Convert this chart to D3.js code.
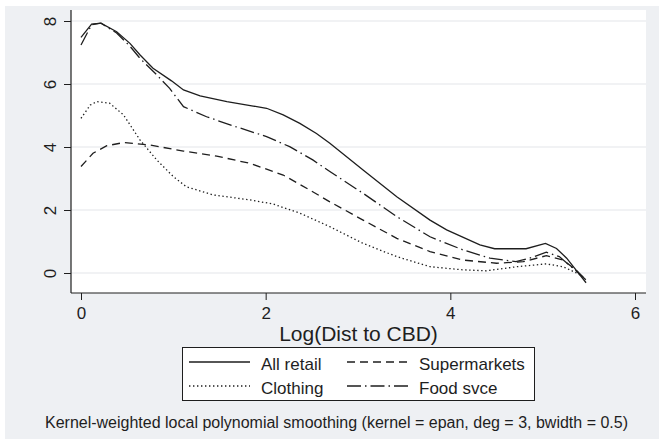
<!DOCTYPE html>
<html>
<head>
<meta charset="utf-8">
<script src="https://cdn.jsdelivr.net/npm/d3@7"></script>
<style>
	body { margin: 0; background: #fff; }
	svg { display: block; font-family: 'Liberation Sans', Arial, sans-serif; }
</style>
</head>
<body>
<div id="graphic"></div>
<script>
// series: [log distance, value]
var allRetail = [[0, 7.48], [0.115, 7.9], [0.216, 7.93], [0.386, 7.66], [0.53, 7.29], [0.64, 6.92],
	[0.78, 6.5], [0.98, 6.1], [1.11, 5.81], [1.29, 5.62], [1.58, 5.44], [1.865, 5.3], [2.01, 5.23],
	[2.19, 5.02], [2.37, 4.75], [2.55, 4.43], [2.695, 4.12], [3.055, 3.27], [3.42, 2.42], [3.78, 1.68],
	[3.96, 1.37], [4.14, 1.13], [4.32, 0.89], [4.48, 0.77], [4.82, 0.77], [5.03, 0.94], [5.15, 0.78],
	[5.26, 0.47], [5.36, 0.1], [5.47, -0.31]];
var supermarkets = [[0, 3.38], [0.13, 3.8], [0.28, 4.04], [0.46, 4.14], [0.75, 4.06], [1.11, 3.87],
	[1.47, 3.71], [1.83, 3.48], [2.19, 3.11], [2.48, 2.63], [2.695, 2.26], [3.055, 1.68], [3.42, 1.1],
	[3.78, 0.68], [4.14, 0.41], [4.5, 0.31], [4.79, 0.36], [5.04, 0.55], [5.22, 0.41], [5.36, 0.1],
	[5.45, -0.17]];
var clothing = [[0, 4.91], [0.1, 5.33], [0.17, 5.44], [0.31, 5.39], [0.46, 5.02], [0.64, 4.22],
	[0.82, 3.59], [1.0, 3.06], [1.14, 2.74], [1.43, 2.48], [1.83, 2.32], [2.08, 2.19], [2.37, 1.9],
	[2.695, 1.47], [3.055, 0.94], [3.42, 0.52], [3.78, 0.2], [4.14, 0.1], [4.39, 0.07], [4.72, 0.2],
	[5.04, 0.29], [5.22, 0.2], [5.36, 0.01], [5.44, -0.12]];
var foodSvce = [[0, 7.24], [0.115, 7.88], [0.216, 7.93], [0.386, 7.62], [0.53, 7.2], [0.64, 6.81],
	[0.82, 6.29], [0.96, 5.86], [1.11, 5.28], [1.36, 4.96], [1.65, 4.67], [2.01, 4.33], [2.26, 4.01],
	[2.51, 3.59], [2.695, 3.22], [3.055, 2.53], [3.42, 1.79], [3.78, 1.15], [4.14, 0.73], [4.43, 0.47],
	[4.71, 0.36], [4.86, 0.47], [5.04, 0.66], [5.18, 0.52], [5.33, 0.15], [5.47, -0.22]];

var xTicks = [0, 2, 4, 6];
var yTicks = [0, 2, 4, 6, 8];
var seriesNames = ['All retail', 'Supermarkets', 'Clothing', 'Food svce'];

var width = 659, height = 439;
var box = { left: 71, right: 646, top: 10, bottom: 293 };
var ink = '#1e1e1e';

var series = [
	{ name: seriesNames[0], data: allRetail, dash: null },
	{ name: seriesNames[1], data: supermarkets, dash: '8,5' },
	{ name: seriesNames[2], data: clothing, dash: '1.4,2.6' },
	{ name: seriesNames[3], data: foodSvce, dash: '14,4,1.5,4' }
];

var svg = d3.select('#graphic').append('svg')
	.attr('width', width)
	.attr('height', height);

// outer grey panel and white plot region
svg.append('rect').attr('x', 5).attr('y', 6).attr('width', width - 5).attr('height', height - 6)
	.attr('fill', '#eef0f3');
svg.append('rect').attr('x', box.left).attr('y', box.top)
	.attr('width', box.right - box.left).attr('height', box.bottom - box.top)
	.attr('fill', '#fff');

var x = d3.scaleLinear().domain([0, 6]).range([81, 635]);
var y = d3.scaleLinear().domain([0, 8]).range([273, 21]);

// gridlines
svg.append('g').selectAll('line').data(yTicks).join('line')
	.attr('x1', box.left).attr('x2', box.right)
	.attr('y1', d => y(d)).attr('y2', d => y(d))
	.attr('stroke', '#e3e5e9').attr('stroke-width', 1.2);

// y axis
var yAxis = svg.append('g')
	.attr('transform', 'translate(' + box.left + ',0)')
	.call(d3.axisLeft(y).tickValues(yTicks).tickSize(7).tickSizeOuter(0).tickFormat(d3.format('d')));
yAxis.select('.domain').remove();
yAxis.selectAll('line').attr('stroke', ink);
yAxis.selectAll('text')
	.attr('x', null).attr('dy', null)
	.attr('transform', 'translate(-15,0) rotate(-90)')
	.attr('text-anchor', 'middle')
	.attr('fill', ink)
	.style('font-size', '17px')
	.style('font-family', 'Liberation Sans, Arial, sans-serif');

// x axis
var xAxis = svg.append('g')
	.attr('transform', 'translate(0,' + box.bottom + ')')
	.call(d3.axisBottom(x).tickValues(xTicks).tickSize(7).tickSizeOuter(0).tickFormat(d3.format('d')));
xAxis.select('.domain').remove();
xAxis.selectAll('line').attr('stroke', ink);
xAxis.selectAll('text')
	.attr('y', 26).attr('dy', null)
	.attr('fill', ink)
	.style('font-size', '17px')
	.style('font-family', 'Liberation Sans, Arial, sans-serif');

// axis lines
svg.append('line').attr('x1', box.left).attr('x2', box.left).attr('y1', box.top).attr('y2', box.bottom)
	.attr('stroke', ink).attr('stroke-width', 1.2);
svg.append('line').attr('x1', box.left).attr('x2', box.right).attr('y1', box.bottom).attr('y2', box.bottom)
	.attr('stroke', ink).attr('stroke-width', 1.2);

// the four smoothed curves
var line = d3.line().x(d => x(d[0])).y(d => y(d[1]));
svg.append('g').selectAll('path').data(series).join('path')
	.attr('d', d => line(d.data))
	.attr('fill', 'none')
	.attr('stroke', ink)
	.attr('stroke-width', 1.3)
	.attr('stroke-dasharray', d => d.dash);

// x axis title
svg.append('text')
	.attr('x', (box.left + box.right) / 2)
	.attr('y', 341)
	.attr('text-anchor', 'middle')
	.attr('fill', ink)
	.style('font-size', '21px')
	.text('Log(Dist to CBD)');

// legend
var legend = svg.append('g');
legend.append('rect').attr('x', 182.5).attr('y', 347.5).attr('width', 352).attr('height', 53)
	.attr('fill', '#fff').attr('stroke', ink).attr('stroke-width', 1);
var cols = [189, 347], rows = [362, 386];
var items = legend.selectAll('g.item').data(series).join('g').attr('class', 'item')
	.attr('transform', (d, i) => 'translate(' + cols[i % 2] + ',' + rows[Math.floor(i / 2)] + ')');
items.append('line').attr('x1', 0).attr('x2', 61).attr('y1', 0).attr('y2', 0)
	.attr('stroke', ink).attr('stroke-width', 1.3)
	.attr('stroke-dasharray', d => d.dash);
items.append('text').attr('x', 72).attr('y', 7.5)
	.attr('fill', ink)
	.style('font-size', '17px')
	.text(d => d.name);

// note
svg.append('text')
	.attr('x', 336.5)
	.attr('y', 428)
	.attr('text-anchor', 'middle')
	.attr('fill', ink)
	.style('font-size', '16px')
	.text('Kernel-weighted local polynomial smoothing (kernel = epan, deg = 3, bwidth = 0.5)');
</script>
</body>
</html>
